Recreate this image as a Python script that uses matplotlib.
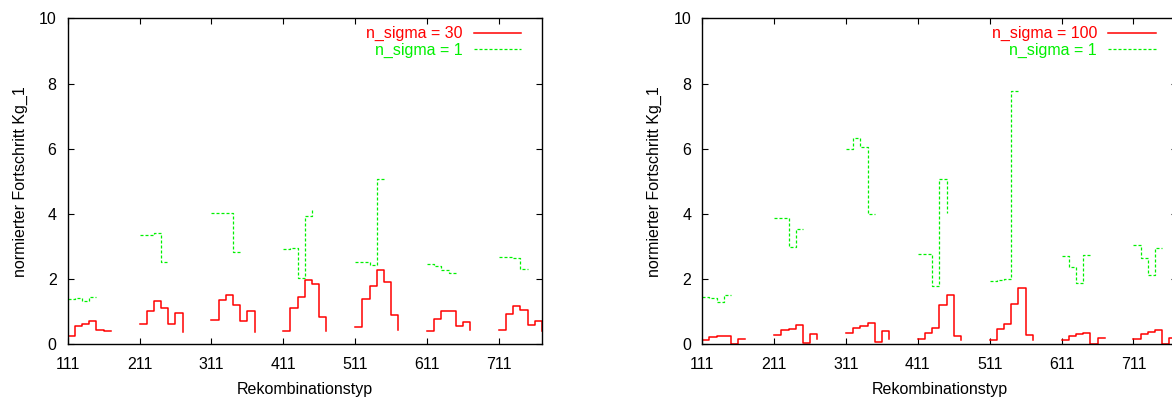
import matplotlib
matplotlib.use('Agg')
import matplotlib.pyplot as plt

plt.rcParams['font.family'] = ['Liberation Sans', 'DejaVu Sans']
plt.rcParams['font.size'] = 11.5

# Rekombinationstyp codes: 100 * group + suffix
groups = [1, 2, 3, 4, 5, 6, 7]
suffix_red = [11, 21, 31, 41, 51, 61, 71]
suffix_green = [11, 21, 31, 41, 51]
xticks = [111, 211, 311, 411, 511, 611, 711]
yticks = [0, 2, 4, 6, 8, 10]

# left panel: n_sigma = 30 vs n_sigma = 1
red_30 = [
    [0.25, 0.56, 0.63, 0.73, 0.44, 0.41, 0.41],
    [0.61, 1.01, 1.34, 1.12, 0.62, 0.95, 0.38],
    [0.74, 1.35, 1.50, 1.22, 0.73, 1.02, 0.38],
    [0.42, 1.12, 1.46, 1.96, 1.85, 0.84, 0.40],
    [0.52, 1.38, 1.79, 2.28, 1.91, 0.89, 0.44],
    [0.41, 0.79, 1.01, 1.01, 0.56, 0.68, 0.44],
    [0.44, 0.93, 1.16, 1.05, 0.59, 0.70, 0.42],
]
green_1_left = [
    [1.40, 1.42, 1.34, 1.45, 1.45],
    [3.35, 3.36, 3.41, 2.53, 2.53],
    [4.04, 4.04, 4.03, 2.82, 2.82],
    [2.92, 2.96, 2.04, 3.93, 4.13],
    [2.53, 2.53, 2.42, 5.07, 5.07],
    [2.47, 2.40, 2.29, 2.20, 2.20],
    [2.68, 2.68, 2.65, 2.32, 2.32],
]

# right panel: n_sigma = 100 vs n_sigma = 1
red_100 = [
    [0.13, 0.21, 0.25, 0.26, 0.02, 0.17, 0.17],
    [0.27, 0.45, 0.48, 0.58, 0.05, 0.33, 0.17],
    [0.34, 0.50, 0.57, 0.66, 0.08, 0.42, 0.17],
    [0.15, 0.34, 0.49, 1.21, 1.52, 0.26, 0.12],
    [0.12, 0.46, 0.62, 1.25, 1.74, 0.29, 0.12],
    [0.12, 0.26, 0.31, 0.36, 0.02, 0.18, 0.18],
    [0.16, 0.32, 0.37, 0.43, 0.02, 0.20, 0.20],
]
green_1_right = [
    [1.46, 1.42, 1.30, 1.50, 1.50],
    [3.88, 3.88, 3.00, 3.55, 3.55],
    [5.99, 6.32, 6.04, 4.00, 4.00],
    [2.77, 2.77, 1.79, 5.08, 4.03],
    [1.93, 1.96, 2.00, 7.76, 7.76],
    [2.72, 2.38, 1.87, 2.74, 2.74],
    [3.06, 2.66, 2.14, 2.94, 2.94],
]

RED = '#ff0000'
GREEN = '#00f000'

fig = plt.figure(figsize=(11.72, 3.99), dpi=100)

W = 474.3 / 1172
H = 326 / 399
B = (399 - 344.3) / 399
ax_l = fig.add_axes([67.7 / 1172, B, W, H])
ax_r = fig.add_axes([702.3 / 1172, B, W, H])


def draw(ax, red, green, red_label):
    for i, g in enumerate(groups):
        xr = [100 * g + s for s in suffix_red]
        xg = [100 * g + s for s in suffix_green]
        ax.step(xr, red[i], where='post', color=RED, lw=1.1,
                label=red_label if i == 0 else None)
        ax.step(xg, green[i], where='post', color=GREEN, lw=0.9,
                linestyle=(0, (2.4, 1.6)),
                label='n_sigma = 1' if i == 0 else None)

    ax.set_xlim(111, 771)
    ax.set_ylim(0, 10)
    ax.set_xticks(xticks)
    ax.set_yticks(yticks)
    ax.tick_params(direction='in', length=4, width=0.8, top=True, right=True,
                   labelsize=11.5)
    ax.tick_params(axis='y', pad=8)
    ax.tick_params(axis='x', pad=9)
    for sp in ax.spines.values():
        sp.set_linewidth(1.0)
    ax.set_xlabel('Rekombinationstyp', labelpad=7)
    ax.set_ylabel('normierter Fortschritt Kg_1', labelpad=8)

    ax.legend(loc='upper right', bbox_to_anchor=(1 - 21 / 474.3, 1 - 8 / 326),
              frameon=False, markerfirst=False, borderaxespad=0, borderpad=0,
              handlelength=2.95, handletextpad=0.72, labelspacing=0.08,
              labelcolor='linecolor', fontsize=11.5)


draw(ax_l, red_30, green_1_left, 'n_sigma = 30')
draw(ax_r, red_100, green_1_right, 'n_sigma = 100')

fig.savefig('out.png', dpi=100)
